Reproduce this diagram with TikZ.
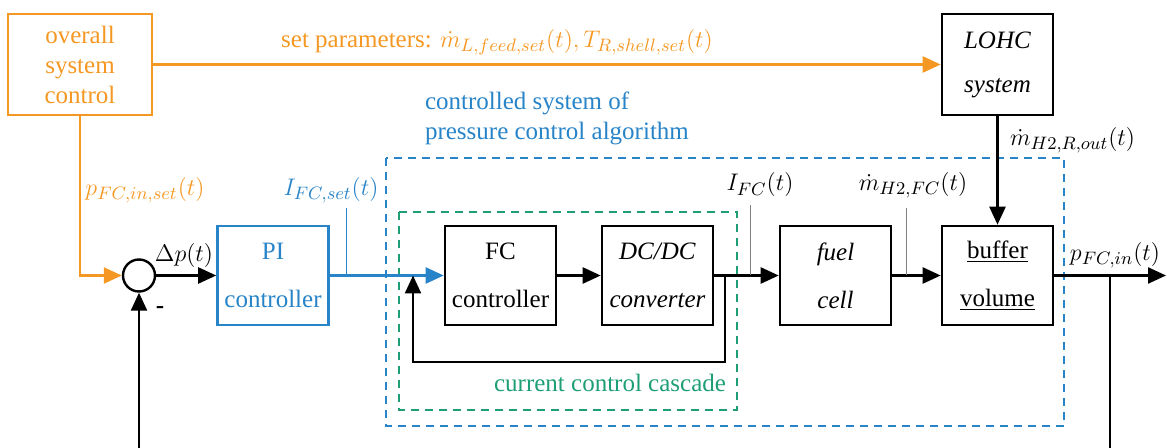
\documentclass[tikz,border=0pt]{standalone}
\usepackage{fontspec}
\setmainfont{Liberation Serif}
\usetikzlibrary{arrows.meta}
\definecolor{ctrlorange}{RGB}{245,152,35}
\definecolor{ctrlblue}{RGB}{40,132,200}
\definecolor{ctrlgreen}{RGB}{30,158,118}
\begin{document}
\begin{tikzpicture}[x=0.5pt, y=-0.5pt, font=\fontsize{12.5}{15}\selectfont,
  block/.style={draw, line width=1.3pt, minimum width=55.5pt, minimum height=49.5pt, align=center, inner sep=0pt},
  sig/.style={line width=1.2pt, -{Triangle[length=9pt,width=8pt]}},
  tick/.style={line width=0.4pt},
  frame/.style={line width=1.1pt, dash pattern=on 4pt off 3pt}]
\useasboundingbox (0,0) rectangle (1167,448);
% blocks
\node[block, draw=ctrlorange, text=ctrlorange, minimum width=72pt, minimum height=50.5pt] (osc) at (80,64.5) {overall\\system\\control};
\node[block, minimum height=50.5pt] (lohc) at (997.5,64.5) {\textit{LOHC}\\[7pt]\textit{system}};
\node[circle, draw, line width=1.2pt, minimum size=16pt, inner sep=0pt] (sum) at (139,275.5) {};
\node[block, draw=ctrlblue, text=ctrlblue] (pi) at (273,275.5) {PI\\[9pt]controller};
\node[block] (fcc) at (500.5,275.5) {FC\\[9pt]controller};
\node[block] (dcdc) at (657.5,275.5) {\textit{DC/DC}\\[9pt]\textit{converter}};
\node[block] (fuel) at (835.5,275.5) {\textit{fuel}\\[9pt]\textit{cell}};
\node[block] (buf) at (997.5,275.5) {\underline{buffer}\\[9pt]\underline{volume}};
% frames
\draw[frame, ctrlblue] (386,158) rectangle (1064,426);
\draw[frame, ctrlgreen] (399,212) rectangle (737,410);
% points
\coordinate (inloop) at (725,275.5);
\coordinate (inbottom) at (725,362);
\coordinate (injoin) at (413,275.5);
\coordinate (out) at (1166,275.5);
\coordinate (fbsplit) at (1110,275.5);
\coordinate (fbend) at (1110,448);
\coordinate (fbin) at (139,448);
\coordinate (ifcset) at (346,275.5);
\coordinate (ifcsettop) at (346,208);
\coordinate (ifc) at (750,275.5);
\coordinate (ifctop) at (750,205);
\coordinate (mfc) at (906,275.5);
\coordinate (mfctop) at (906,208);
% connectors
\draw[sig, ctrlorange] (osc) -- (lohc);
\draw[sig, ctrlorange] (osc.south) |- (sum.west);
\draw[sig] (sum) -- (pi);
\draw[sig, ctrlblue] (pi) -- (fcc);
\draw[sig] (fcc) -- (dcdc);
\draw[sig] (dcdc) -- (fuel);
\draw[sig] (fuel) -- (buf);
\draw[sig] (lohc) -- (buf);
\draw[sig] (buf) -- (out);
\draw[sig] (inloop) -- (inbottom) -| (injoin);
\draw[line width=1.2pt] (fbsplit) -- (fbend);
\draw[sig] (fbin) -- (sum.south);
\draw[tick, ctrlblue] (ifcset) -- (ifcsettop);
\draw[tick, gray] (ifc) -- (ifctop);
\draw[tick, gray] (mfc) -- (mfctop);
% labels
\node[text=ctrlorange] (setpar) at (497,42) {set parameters: $\dot{m}_{L,feed,set}(t), T_{R,shell,set}(t)$};
\node[text=ctrlblue, anchor=west, align=left] (ctrlsys) at (418,118) {controlled system of\\pressure control algorithm};
\node[text=ctrlgreen] (cascade) at (610,383) {current control cascade};
\node[text=ctrlorange] (pset) at (145,190) {$p_{FC,in,set}(t)$};
\node (dp) at (184,256) {$\Delta p(t)$};
\node[text=ctrlblue] (iset) at (331,190) {$I_{FC,set}(t)$};
\node (ifclbl) at (760,185) {$I_{FC}(t)$};
\node (mfclbl) at (913,185) {$\dot{m}_{H2,FC}(t)$};
\node[anchor=west] (mout) at (1003,140) {$\dot{m}_{H2,R,out}(t)$};
\node (pin) at (1115,255) {$p_{FC,in}(t)$};
\node (minus) at (160,310) {\textbf{-}};
\end{tikzpicture}
\end{document}
